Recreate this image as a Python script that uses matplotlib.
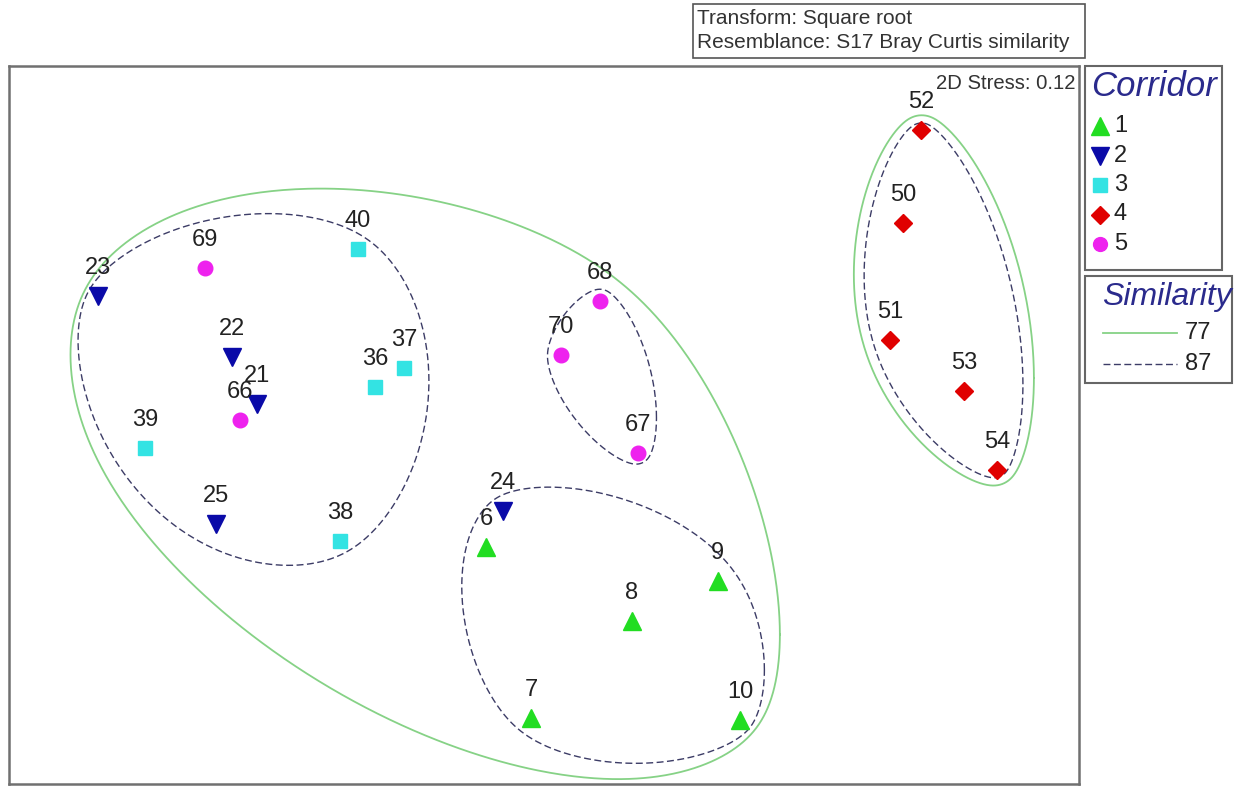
import numpy as np
import matplotlib
matplotlib.use("Agg")
import matplotlib.pyplot as plt
from matplotlib.patches import Rectangle
from matplotlib.lines import Line2D

plt.rcParams["font.family"] = ["Liberation Sans", "DejaVu Sans"]

# nMDS ordination coordinates, grouped by corridor
corridors = ["1", "2", "3", "4", "5"]
c1_ids = [6, 7, 8, 9, 10]
c1_x = [-0.195, -0.044, 0.296, 0.585, 0.660]
c1_y = [-0.410, -0.986, -0.660, -0.525, -0.993]
c2_ids = [23, 22, 21, 25, 24]
c2_x = [-1.501, -1.050, -0.966, -1.104, -0.138]
c2_y = [0.434, 0.229, 0.071, -0.333, -0.289]
c3_ids = [40, 37, 36, 39, 38]
c3_x = [-0.626, -0.471, -0.569, -1.343, -0.686]
c3_y = [0.592, 0.192, 0.128, -0.077, -0.390]
c4_ids = [52, 50, 51, 53, 54]
c4_x = [1.268, 1.208, 1.164, 1.413, 1.524]
c4_y = [0.993, 0.680, 0.286, 0.114, -0.151]
c5_ids = [69, 66, 68, 70, 67]
c5_x = [-1.141, -1.023, 0.188, 0.057, 0.316]
c5_y = [0.528, 0.017, 0.417, 0.236, -0.094]

# cluster membership at each similarity level (77 % groups merge 87 % groups)
similarity_levels = ["77", "87"]
clusters_87 = [
    [23, 22, 21, 25, 40, 37, 36, 39, 38, 69, 66],
    [68, 70, 67],
    [6, 7, 8, 9, 10, 24],
    [52, 50, 51, 53, 54],
]
clusters_77 = [[0, 1, 2], [3]]  # indices into clusters_87

stress_text = "2D Stress: 0.12"
header_lines = ["Transform: Square root", "Resemblance: S17 Bray Curtis similarity"]

groups = [
    (c1_ids, c1_x, c1_y),
    (c2_ids, c2_x, c2_y),
    (c3_ids, c3_x, c3_y),
    (c4_ids, c4_x, c4_y),
    (c5_ids, c5_x, c5_y),
]
styles = [
    dict(marker="^", color="#22dd22", ms=13),
    dict(marker="v", color="#0a0aa8", ms=13),
    dict(marker="s", color="#33e3e3", ms=10.5),
    dict(marker="D", color="#e00000", ms=9.5),
    dict(marker="o", color="#ee22ee", ms=10.5),
]

coords = {}
for ids, xs, ys in groups:
    for i, x, y in zip(ids, xs, ys):
        coords[i] = (x, y)


def smooth_envelope(P, pad, sigma, n=720):
    """Closed curve around points P: padded support function, smoothed in angle."""
    P = np.asarray(P, dtype=float)
    c = P.mean(axis=0)
    th = np.linspace(0, 2 * np.pi, n, endpoint=False)
    u = np.stack([np.cos(th), np.sin(th)], axis=1)
    h = ((P - c) @ u.T).max(axis=0) + pad
    k = np.fft.fftfreq(n, 1.0 / n)
    H = np.fft.fft(h) * np.exp(-0.5 * (k * sigma) ** 2)
    hs = np.fft.ifft(H).real
    dh = np.fft.ifft(1j * k * H).real
    x = c[0] + hs * np.cos(th) - dh * np.sin(th)
    y = c[1] + hs * np.sin(th) + dh * np.cos(th)
    return np.append(x, x[0]), np.append(y, y[0])


W, H = 1235, 786
fig = plt.figure(figsize=(W / 100, H / 100), dpi=100)

# main ordination frame
ax = fig.add_axes([9 / W, (H - 784) / H, 1070 / W, 718 / H])
ax.set_xlim(-1.80, 1.80)
ax.set_ylim(-1.208, 1.208)
ax.set_xticks([])
ax.set_yticks([])
for s in ax.spines.values():
    s.set_color("#707070")
    s.set_linewidth(1.8)

green_line = dict(color="#86d286", lw=1.3, ls="-")
dash_line = dict(color="#3c3c66", lw=1.0, ls=(0, (5, 2.5)))

# similarity contours: 87 % around samples, 77 % around the merged 87 % outlines
env87 = [(0.08, 0.40), (0.05, 0.30), (0.075, 0.35), (0.05, 0.30)]
env77 = [(0.058, 0.28), (0.03, 0.12)]
outlines87 = []
for ids, (pad, sig) in zip(clusters_87, env87):
    ex, ey = smooth_envelope([coords[i] for i in ids], pad, sig)
    outlines87.append(np.column_stack([ex, ey]))
    ax.plot(ex, ey, zorder=2, **dash_line)
for members, (pad, sig) in zip(clusters_77, env77):
    P = np.vstack([outlines87[m] for m in members])
    ex, ey = smooth_envelope(P, pad, sig)
    ax.plot(ex, ey, zorder=2, **green_line)

# samples
for (ids, xs, ys), st in zip(groups, styles):
    ax.plot(xs, ys, ls="none", marker=st["marker"], color=st["color"],
            mec=st["color"], ms=st["ms"], zorder=3)
    for i, x, y in zip(ids, xs, ys):
        ax.annotate(str(i), (x, y), xytext=(0, 16), textcoords="offset points",
                    ha="center", va="baseline", fontsize=17, color="#222222", zorder=4)

ax.text(0.9965, 0.976, stress_text, transform=ax.transAxes, ha="right", va="center",
        fontsize=14.6, color="#333333")

# overlay in pixel coordinates for the header box and the legends
ov = fig.add_axes([0, 0, 1, 1], zorder=5)
ov.set_xlim(0, W)
ov.set_ylim(H, 0)
ov.axis("off")
ov.patch.set_alpha(0)

ov.add_patch(Rectangle((693, 4), 392, 54, fill=False, ec="#555555", lw=1.2))
for j, line in enumerate(header_lines):
    ov.text(697, 19 + j * 24, line, ha="left", va="center", fontsize=15, color="#333333")

# corridor legend
ov.add_patch(Rectangle((1085, 66), 137, 204, fill=False, ec="#666666", lw=1.5))
ov.text(1091, 86, "Corridor", ha="left", va="center", fontsize=25, style="italic",
        color="#2a2a8c")
for j, (lab, st) in enumerate(zip(corridors, styles)):
    yy = 126 + j * 29.5
    ov.plot([1100], [yy], ls="none", marker=st["marker"], color=st["color"],
            ms=st["ms"] * 0.95)
    ov.text(1114, yy, lab, ha="left", va="center", fontsize=17, color="#222222")

# similarity legend
ov.add_patch(Rectangle((1085, 276), 147, 107, fill=False, ec="#666666", lw=1.5))
ov.text(1102, 297, "Similarity", ha="left", va="center", fontsize=23, style="italic",
        color="#2a2a8c")
for j, (lab, ls) in enumerate(zip(similarity_levels, [green_line, dash_line])):
    yy = 333 + j * 31
    ov.add_line(Line2D([1103, 1177], [yy, yy], **ls))
    ov.text(1185, yy, lab, ha="left", va="center", fontsize=17, color="#222222")

fig.savefig("out.png", dpi=100)
